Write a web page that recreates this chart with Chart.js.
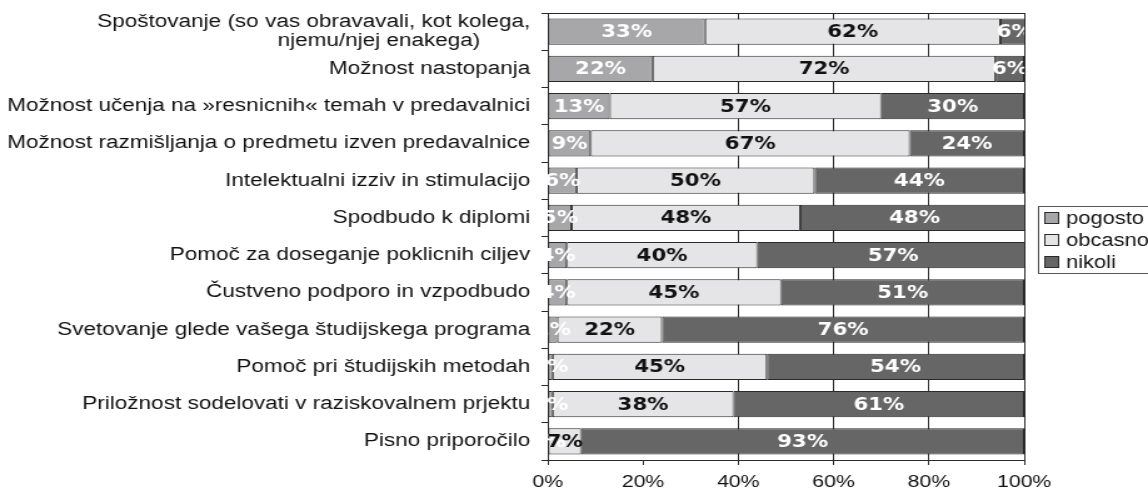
<!DOCTYPE html>
<html>
<head>
<meta charset="utf-8">
<script src="https://cdn.jsdelivr.net/npm/chart.js@4/dist/chart.umd.min.js"></script>
<style>
  html, body { margin: 0; padding: 0; background: #fff; overflow: hidden; }
  /* the reference is stretched sideways, so the canvas is drawn narrow and shown wide */
  #chart { width: 1148px; height: 490px; }
</style>
</head>
<body>
<canvas id="chart" width="918" height="490" style="width:1148px;height:490px"></canvas>
<script>
const categories = [
    ['Spoštovanje (so vas obravavali, kot kolega,', 'njemu/njej enakega)        '],
    'Možnost nastopanja',
    'Možnost učenja na »resnicnih« temah v predavalnici',
    'Možnost razmišljanja o predmetu izven predavalnice',
    'Intelektualni izziv in stimulacijo',
    'Spodbudo k diplomi',
    'Pomoč za doseganje poklicnih ciljev',
    'Čustveno podporo in vzpodbudo',
    'Svetovanje glede vašega študijskega programa',
    'Pomoč pri študijskih metodah',
    'Priložnost sodelovati v raziskovalnem prjektu',
    'Pisno priporočilo'
];
const seriesNames = ['pogosto', 'obcasno', 'nikoli'];
const pogosto = [33, 22, 13, 9, 6, 5, 4, 4, 2, 1, 1, 0];
const obcasno = [62, 72, 57, 67, 50, 48, 40, 45, 22, 45, 38, 7];
const nikoli = [6, 6, 30, 24, 44, 48, 57, 51, 76, 54, 61, 93];
const xTicks = [0, 20, 40, 60, 80, 100];

const FILLS = ['#a7a7aa', '#e5e5e7', '#666667'];
const LABEL_COLORS = ['#ffffff', '#111111', '#ffffff'];
const EDGE = '#2a2a2a';
const FONT = 'Arial, "Liberation Sans"';

// values written on each segment, clipped to the plot like the original
const segmentLabels = {
    id: 'segmentLabels',
    afterDatasetsDraw(chart) {
        const { ctx, chartArea } = chart;
        ctx.save();
        ctx.beginPath();
        ctx.rect(chartArea.left, chartArea.top, chartArea.right - chartArea.left, chartArea.bottom - chartArea.top);
        ctx.clip();
        ctx.font = 'bold 17px "DejaVu Sans"';
        ctx.textAlign = 'center';
        ctx.textBaseline = 'middle';
        chart.data.datasets.forEach((ds, i) => {
            ctx.fillStyle = LABEL_COLORS[i];
            chart.getDatasetMeta(i).data.forEach((bar, j) => {
                ctx.fillText(ds.data[j] + '%', (bar.x + bar.base) / 2, bar.y + 1);
            });
        });
        ctx.restore();
    }
};

// top edge of the plot plus a boxed legend to the right of it
const frameAndLegend = {
    id: 'frameAndLegend',
    afterDraw(chart) {
        const { ctx, chartArea } = chart;
        ctx.save();
        ctx.strokeStyle = EDGE;
        ctx.lineWidth = 1;
        ctx.beginPath();
        ctx.moveTo(chartArea.left, chartArea.top + 0.5);
        ctx.lineTo(chartArea.right, chartArea.top + 0.5);
        ctx.stroke();

        const sets = chart.data.datasets;
        const rowH = 22;
        const x0 = Math.round(chartArea.right + 11) + 0.5;
        const mid = (chartArea.top + chartArea.bottom) / 2 + 3.5;
        const firstY = mid - rowH * (sets.length - 1) / 2;
        const top = Math.round(firstY - 12) + 0.5;
        const bottom = Math.round(firstY + rowH * (sets.length - 1) + 11) + 0.5;
        ctx.strokeStyle = '#555';
        ctx.strokeRect(x0, top, chart.width + 10 - x0, bottom - top);

        ctx.font = '17.5px ' + FONT;
        ctx.textBaseline = 'middle';
        ctx.textAlign = 'left';
        sets.forEach((ds, i) => {
            const cy = Math.round(firstY + i * rowH);
            ctx.fillStyle = ds.backgroundColor;
            ctx.fillRect(x0 + 5, cy - 5.5, 11, 11);
            ctx.strokeStyle = EDGE;
            ctx.strokeRect(x0 + 5, cy - 5.5, 11, 11);
            ctx.fillStyle = '#111';
            ctx.fillText(ds.label, x0 + 22, cy + 1);
        });
        ctx.restore();
    }
};

const mkSet = (i, data) => ({
    label: seriesNames[i],
    data,
    backgroundColor: FILLS[i],
    borderColor: EDGE,
    borderWidth: 1,
    borderSkipped: false,
    barPercentage: 0.7,
    categoryPercentage: 1.0
});

new Chart(document.getElementById('chart'), {
    type: 'bar',
    data: {
        labels: categories,
        datasets: [mkSet(0, pogosto), mkSet(1, obcasno), mkSet(2, nikoli)]
    },
    options: {
        responsive: false,
        animation: false,
        indexAxis: 'y',
        layout: { padding: { top: 13, bottom: 0, right: 99, left: 0 } },
        plugins: {
            tooltip: { enabled: false },
            legend: { display: false }
        },
        scales: {
            x: {
                stacked: true, min: 0, max: 100,
                afterBuildTicks: (s) => { s.ticks = xTicks.map(v => ({ value: v })); },
                afterFit: (s) => { s.height = 30; s.paddingLeft = 0; s.paddingRight = 0; },
                ticks: {
                    color: '#111', padding: 7,
                    font: { family: FONT, size: 17 },
                    callback: (v) => v + '%'
                },
                grid: {
                    color: (c) => (c.tick && c.tick.value === 20) ? 'rgba(0,0,0,0)' : EDGE,
                    tickColor: EDGE, tickLength: 5, lineWidth: 1
                },
                border: { color: EDGE }
            },
            y: {
                stacked: true,
                afterFit: (s) => { s.width = 438; s.paddingTop = 0; s.paddingBottom = 0; },
                ticks: {
                    color: '#111', padding: 9, autoSkip: false,
                    font: { family: FONT, size: 18, lineHeight: 1.1 }
                },
                grid: { drawOnChartArea: false, tickColor: EDGE, tickLength: 5 },
                border: { color: EDGE }
            }
        }
    },
    plugins: [segmentLabels, frameAndLegend]
});
</script>
</body>
</html>
